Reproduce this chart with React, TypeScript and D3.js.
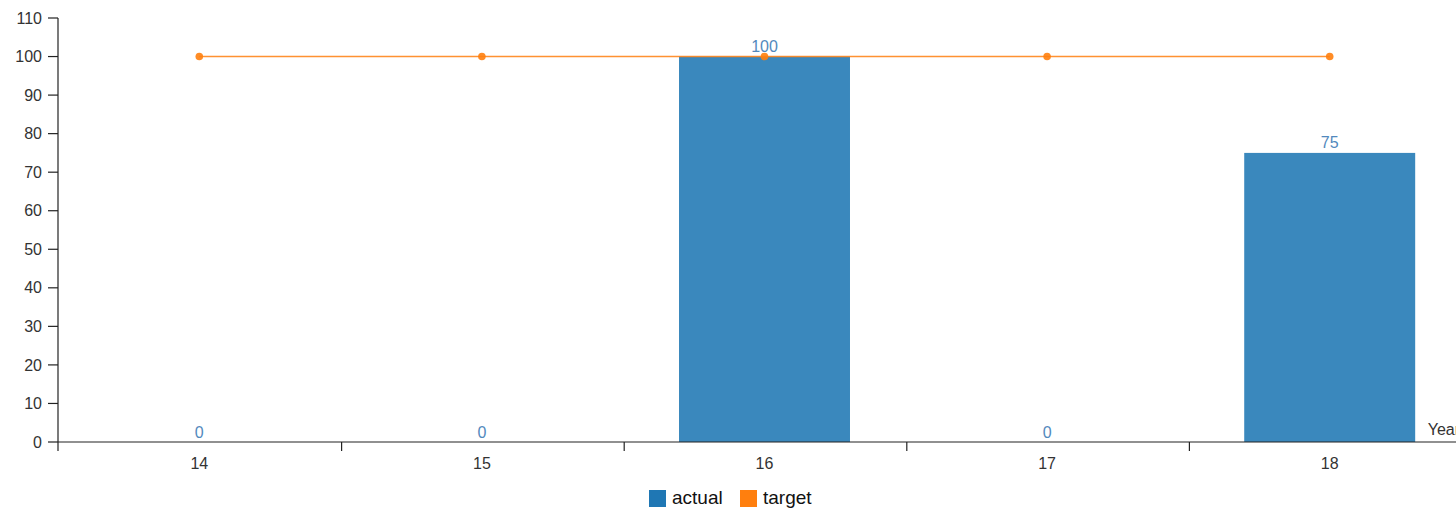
import React from "react";
import * as d3 from "d3";

const categories = ["14", "15", "16", "17", "18"];
const actual = [0, 0, 100, 0, 75];
const target = [100, 100, 100, 100, 100];
const yTicks = [0, 10, 20, 30, 40, 50, 60, 70, 80, 90, 100, 110];
const seriesNames = ["actual", "target"];
const seriesColors = ["#1f77b4", "#ff7f0e"];

const W = 1456;
const H = 510;
const left = 58;
const right = 1471;
const top = 18;
const bottom = 442;
const font = "Arial, 'Liberation Sans', Helvetica, sans-serif";

export default function App() {
  const x = d3.scaleBand<string>().domain(categories).range([left, right]);
  const y = d3.scaleLinear().domain([0, 110]).range([bottom, top]);
  const bw = x.bandwidth() * 0.605;
  const cx = (c: string) => (x(c) as number) + x.bandwidth() / 2;
  const line = d3
    .line<number>()
    .x((_, i) => cx(categories[i]))
    .y((d) => y(d));
  const boundaries = categories.map((c) => (x(c) as number) + 1).concat([right]);
  boundaries[0] = left;

  return (
    <svg
      width={W}
      height={H}
      style={{ position: "absolute", left: 0, top: 0, fontFamily: font }}
    >
      {/* bars */}
      {actual.map((v, i) => (
        <rect
          key={"b" + i}
          x={cx(categories[i]) - bw / 2}
          y={y(v)}
          width={bw}
          height={bottom - y(v)}
          fill={seriesColors[0]}
          opacity={0.88}
        />
      ))}
      {/* target line */}
      <path d={line(target) || ""} fill="none" stroke={seriesColors[1]} strokeWidth={1.6} opacity={0.85} />
      {target.map((v, i) => (
        <circle key={"p" + i} cx={cx(categories[i])} cy={y(v)} r={3.8} fill={seriesColors[1]} opacity={0.9} />
      ))}
      {/* value labels */}
      {actual.map((v, i) => (
        <text
          key={"l" + i}
          x={cx(categories[i])}
          y={y(v) - 4.5}
          textAnchor="middle"
          fontSize={16}
          fill="#5289bd"
        >
          {v}
        </text>
      ))}
      {/* y axis */}
      <line x1={left} x2={left} y1={top} y2={bottom} stroke="#222" strokeWidth={1.2} />
      {yTicks.map((t) => (
        <g key={"y" + t}>
          <line x1={left - 10} x2={left} y1={y(t)} y2={y(t)} stroke="#222" strokeWidth={1.2} />
          <text x={left - 16} y={y(t)} dy="0.35em" textAnchor="end" fontSize={16} fill="#333">
            {t}
          </text>
        </g>
      ))}
      {/* x axis */}
      <line x1={left} x2={right} y1={bottom} y2={bottom} stroke="#222" strokeWidth={1.2} />
      {boundaries.map((b, i) => (
        <line key={"xt" + i} x1={b} x2={b} y1={bottom} y2={bottom + 9} stroke="#222" strokeWidth={1.2} />
      ))}
      {categories.map((c) => (
        <text key={"xl" + c} x={cx(c)} y={469} textAnchor="middle" fontSize={16} fill="#333">
          {c}
        </text>
      ))}
      <text x={right - 11} y={435} textAnchor="end" fontSize={16} fill="#333">
        Year
      </text>
      {/* legend */}
      {seriesNames.map((n, i) => {
        const lx = i === 0 ? 649 : 740;
        return (
          <g key={"lg" + n}>
            <rect x={lx} y={490} width={17} height={17} fill={seriesColors[i]} />
            <text x={lx + 23} y={504} fontSize={19} fill="#111">
              {n}
            </text>
          </g>
        );
      })}
    </svg>
  );
}
